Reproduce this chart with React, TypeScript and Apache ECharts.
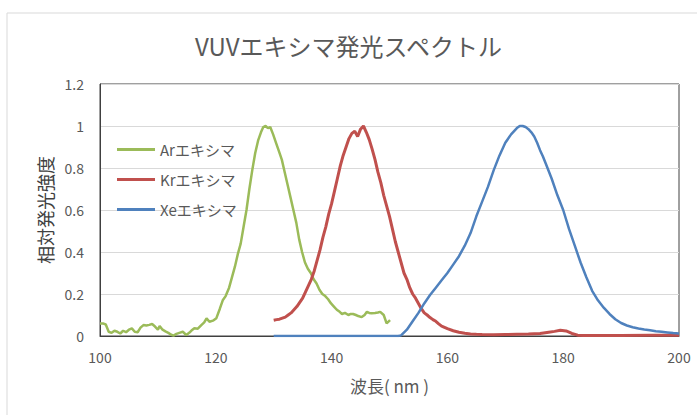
import React, { useEffect, useRef } from "react";
import * as echarts from "echarts";

const chartTitle = "VUVエキシマ発光スペクトル";
const xAxisName = "波長( nm )";
const yAxisName = "相対発光強度";
const seriesNames = ["Arエキシマ", "Krエキシマ", "Xeエキシマ"];

const arWavelength = [
  100.0, 100.5, 101.0, 101.5, 102.0, 102.5, 103.0, 103.5, 104.0, 104.5, 105.0, 105.5, 106.0, 106.5, 107.0, 107.5,
  108.0, 108.5, 109.0, 109.5, 110.0, 110.3, 110.8, 111.3, 111.8, 112.3, 112.7, 113.2, 113.7, 114.3, 114.9, 115.4,
  115.8, 116.3, 116.9, 117.5, 118.0, 118.4, 118.9, 119.5, 120.1, 120.7, 121.2, 121.7, 122.3, 122.8, 123.3, 123.8,
  124.3, 124.8, 125.3, 125.8, 126.3, 126.8, 127.3, 127.8, 128.2, 128.6, 129.0, 129.4, 129.9, 130.4, 130.9, 131.4,
  131.9, 132.4, 132.9, 133.4, 133.9, 134.4, 134.9, 135.4, 135.9, 136.4, 136.9, 137.4, 137.9, 138.4, 138.9, 139.4,
  139.9, 140.4, 140.9, 141.4, 141.8, 142.3, 142.9, 143.3, 143.7, 144.2, 144.6, 145.2, 145.7, 146.1, 146.5, 146.9,
  147.5, 148.0, 148.4, 149.0, 149.5, 150.1,
];
const arIntensity = [
  0.06, 0.06, 0.055, 0.02, 0.015, 0.025, 0.02, 0.012, 0.025, 0.018, 0.03, 0.036, 0.02, 0.018, 0.04, 0.052,
  0.05, 0.053, 0.057, 0.045, 0.03, 0.048, 0.03, 0.022, 0.015, 0.006, 0.002, 0.01, 0.015, 0.02, 0.005, 0.015,
  0.026, 0.037, 0.035, 0.052, 0.065, 0.084, 0.068, 0.073, 0.085, 0.13, 0.17, 0.19, 0.23, 0.28, 0.33, 0.39,
  0.44, 0.52, 0.6, 0.7, 0.79, 0.87, 0.93, 0.97, 0.995, 1.0, 0.99, 0.995, 0.96, 0.92, 0.88, 0.84,
  0.78, 0.72, 0.66, 0.6, 0.54, 0.46, 0.4, 0.35, 0.32, 0.3, 0.27, 0.25, 0.22, 0.2, 0.19, 0.175,
  0.155, 0.14, 0.125, 0.115, 0.105, 0.11, 0.1, 0.105, 0.105, 0.1, 0.095, 0.09, 0.1, 0.115, 0.11, 0.108,
  0.11, 0.112, 0.115, 0.1, 0.06, 0.076,
];

const krWavelength = [
  130.0, 130.5, 131.0, 131.5, 132.0, 132.5, 133.0, 133.5, 134.0, 134.5, 135.0, 135.5, 136.0, 136.5, 137.0, 137.5,
  138.0, 138.5, 139.0, 139.5, 140.0, 140.5, 141.0, 141.5, 142.0, 142.5, 143.0, 143.5, 144.0, 144.5, 145.0, 145.5,
  146.0, 146.5, 147.0, 147.5, 148.0, 148.5, 149.0, 149.5, 150.0, 150.5, 151.0, 151.5, 152.0, 152.5, 153.0, 153.5,
  154.0, 154.5, 155.0, 155.5, 156.0, 156.5, 157.0, 157.5, 158.0, 158.5, 159.0, 160.0, 161.0, 162.0, 163.0, 164.0,
  165.0, 166.0, 168.0, 170.0, 172.0, 174.0, 176.0, 177.5, 178.5, 179.5, 180.5, 181.5, 182.5, 183.5, 186.0, 190.0,
  195.0, 200.0,
];
const krIntensity = [
  0.075, 0.078, 0.08, 0.085, 0.09, 0.1, 0.11, 0.125, 0.14, 0.16, 0.18, 0.21, 0.24, 0.27, 0.31, 0.36,
  0.41, 0.47, 0.52, 0.58, 0.63, 0.69, 0.75, 0.81, 0.86, 0.9, 0.94, 0.965, 0.975, 0.95, 0.985, 1.0,
  0.97, 0.935, 0.89, 0.84, 0.78, 0.73, 0.67, 0.62, 0.57, 0.51, 0.45, 0.4, 0.35, 0.3, 0.27, 0.23,
  0.2, 0.18, 0.155, 0.13, 0.11, 0.1, 0.088, 0.078, 0.07, 0.058, 0.047, 0.035, 0.025, 0.018, 0.013, 0.01,
  0.008, 0.007, 0.006, 0.007, 0.008, 0.009, 0.012, 0.018, 0.022, 0.027, 0.024, 0.012, 0.004, 0.002, 0.002, 0.002,
  0.003, 0.004,
];

const xeWavelength = [
  130, 135, 140, 145, 150, 151.5, 152, 153, 154, 155, 156, 157, 158, 159, 160, 161,
  162, 163, 164, 165, 166, 167, 168, 169, 170, 171, 172, 172.5, 173, 173.5, 174, 174.5,
  175, 175.5, 176, 176.5, 177, 178, 179, 180, 181, 182, 183, 184, 185, 186, 187, 188,
  189, 190, 191, 192, 193, 194, 195, 196, 197, 198, 199, 200,
];
const xeIntensity = [
  0, 0, 0, 0, 0, 0, 0.003, 0.03, 0.07, 0.11, 0.155, 0.195, 0.23, 0.265, 0.3, 0.34,
  0.38, 0.43, 0.49, 0.57, 0.64, 0.71, 0.79, 0.86, 0.92, 0.96, 0.99, 1.0, 1.0, 0.995, 0.985, 0.97,
  0.95, 0.92, 0.885, 0.855, 0.82, 0.75, 0.67, 0.6, 0.51, 0.43, 0.35, 0.28, 0.215, 0.17, 0.135, 0.105,
  0.08, 0.062, 0.05, 0.042, 0.036, 0.031, 0.027, 0.023, 0.02, 0.017, 0.014, 0.012,
];

const xTicks = { min: 100, max: 200, interval: 20 };
const yTicks = { min: 0, max: 1.2, interval: 0.2 };
const colors = ["#9BBB59", "#C0504D", "#4F81BD"];

const zip = (xs: number[], ys: number[]) => xs.map((x, i) => [x, ys[i]]);

const FONT = "'Noto Sans CJK JP', 'Noto Sans', sans-serif";

export default function App() {
  const ref = useRef<HTMLDivElement>(null);
  useEffect(() => {
    if (!ref.current) return;
    const chart = echarts.init(ref.current, undefined, { renderer: "svg" });
    const datasets = [
      zip(arWavelength, arIntensity),
      zip(krWavelength, krIntensity),
      zip(xeWavelength, xeIntensity),
    ];
    chart.setOption({
      animation: false,
      backgroundColor: "#ffffff",
      textStyle: { fontFamily: FONT },
      title: {
        text: chartTitle,
        left: "center",
        top: 28,
        textStyle: { fontSize: 24, fontWeight: "normal", color: "#595959", fontFamily: FONT },
      },
      graphic: [
        {
          type: "rect",
          shape: { x: 7, y: 13, width: 720, height: 430 },
          style: { fill: "none", stroke: "#D9D9D9", lineWidth: 1 },
          silent: true,
          z: -1,
        },
      ],
      legend: {
        orient: "vertical",
        left: 112,
        top: 137,
        itemWidth: 38,
        itemHeight: 3,
        itemGap: 15,
        icon: "rect",
        data: seriesNames,
        textStyle: { fontSize: 15, color: "#595959", fontFamily: FONT },
      },
      grid: {
        left: 100,
        right: 18,
        top: 84,
        bottom: 79,
        show: true,
        borderColor: "#404040",
        borderWidth: 1,
      },
      xAxis: {
        type: "value",
        min: xTicks.min,
        max: xTicks.max,
        interval: xTicks.interval,
        name: xAxisName,
        nameLocation: "middle",
        nameGap: 41,
        nameTextStyle: { fontSize: 17, color: "#595959", fontFamily: FONT },
        axisLine: { show: true, lineStyle: { color: "#404040", width: 1 } },
        axisTick: { show: false },
        axisLabel: { fontSize: 14, color: "#595959", margin: 14, fontFamily: FONT },
        splitLine: { show: false },
      },
      yAxis: {
        type: "value",
        min: yTicks.min,
        max: yTicks.max,
        interval: yTicks.interval,
        name: yAxisName,
        nameLocation: "middle",
        nameGap: 46,
        nameRotate: 90,
        nameTextStyle: { fontSize: 18, color: "#404040", fontFamily: FONT },
        axisLine: { show: true, lineStyle: { color: "#404040", width: 1 } },
        axisTick: { show: false },
        axisLabel: { fontSize: 14, color: "#595959", margin: 16, fontFamily: FONT },
        splitLine: { show: true, lineStyle: { color: "#D9D9D9", width: 1 } },
      },
      series: seriesNames.map((name, i) => ({
        name,
        type: "line",
        data: datasets[i],
        showSymbol: false,
        symbol: "none",
        smooth: false,
        color: colors[i],
        lineStyle: { color: colors[i], width: i === 1 ? 3 : 2.5 },
        itemStyle: { color: colors[i] },
      })),
    });
    return () => chart.dispose();
  }, []);
  return (
    <div
      ref={ref}
      style={{ position: "absolute", left: 0, top: 0, width: 697, height: 415 }}
    />
  );
}
